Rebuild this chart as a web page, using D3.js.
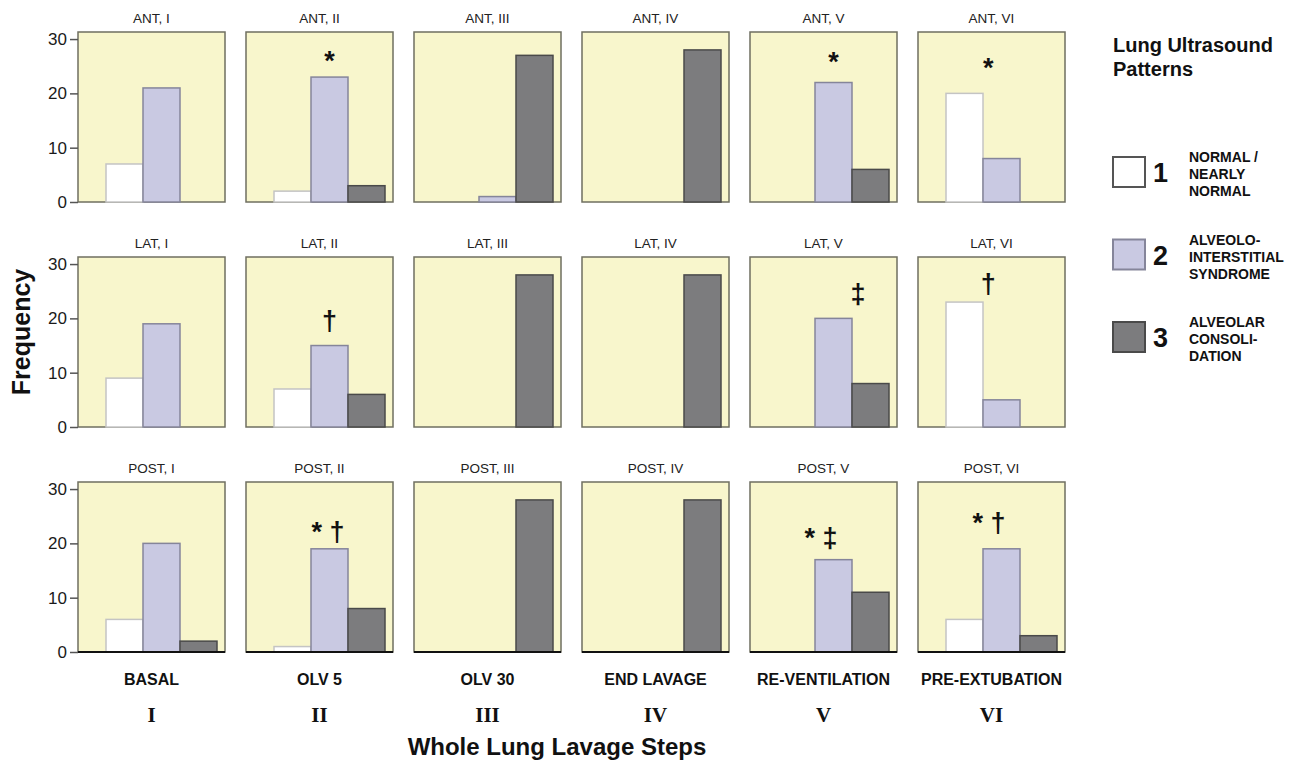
<!DOCTYPE html>
<html>
<head>
<meta charset="utf-8">
<script src="https://cdn.jsdelivr.net/npm/d3@7"></script>
<style>
  body { margin: 0; background: #fff; }
  text { font-family: "Liberation Sans", Arial, sans-serif; }
</style>
</head>
<body>
<div id="chart"></div>
<script>
// --- data ---
var regions = ["ANT", "LAT", "POST"];
var steps = ["I", "II", "III", "IV", "V", "VI"];
var stepNames = ["BASAL", "OLV 5", "OLV 30", "END LAVAGE", "RE-VENTILATION", "PRE-EXTUBATION"];
var patterns = [1, 2, 3];
var patternNames = [
    ["NORMAL /", "NEARLY", "NORMAL"],
    ["ALVEOLO-", "INTERSTITIAL", "SYNDROME"],
    ["ALVEOLAR", "CONSOLI-", "DATION"]
];
var yTicks = [0, 10, 20, 30];

// frequency per pattern [1, 2, 3], one row per step
var antValues = [[7, 21, 0], [2, 23, 3], [0, 1, 27], [0, 0, 28], [0, 22, 6], [20, 8, 0]];
var latValues = [[9, 19, 0], [7, 15, 6], [0, 0, 28], [0, 0, 28], [0, 20, 8], [23, 5, 0]];
var postValues = [[6, 20, 2], [1, 19, 8], [0, 0, 28], [0, 0, 28], [0, 17, 11], [6, 19, 3]];
var allValues = [antValues, latValues, postValues];

// significance marks: region, step, mark, position over the bars (bar units), height (frequency)
var marks = [
    ["ANT", "II", "*", 1.5, 26.1],
    ["ANT", "V", "*", 1.5, 25.8],
    ["ANT", "VI", "*", 1.14, 24.7],
    ["LAT", "II", "\u2020", 1.5, 19.6],
    ["LAT", "V", "\u2021", 2.16, 24.6],
    ["LAT", "VI", "\u2020", 1.14, 26.4],
    ["POST", "II", "* \u2020", 1.46, 22.1],
    ["POST", "V", "* \u2021", 1.16, 21],
    ["POST", "VI", "* \u2020", 1.16, 23.9]
];

var fills = ["#ffffff", "#c9c9e2", "#7c7c7e"];
var strokes = ["#c4c4c4", "#85859a", "#4a4a4a"];

var W = 1301, H = 765;
var panelW = 147, panelH = 170;

var svg = d3.select("#chart").append("svg")
    .attr("width", W)
    .attr("height", H);

var colX = d3.scaleBand().domain(steps).range([78, 1065]).paddingInner(0.125).paddingOuter(0);
var rowY = d3.scaleBand().domain(regions).range([32, 652]).paddingInner(55 / 225).paddingOuter(0);

var y = d3.scaleLinear().domain([0, 31.3]).range([panelH, 0]);
var barX = d3.scaleBand().domain(patterns).range([28, 139]).padding(0);
var markX = d3.scaleLinear().domain([0, 3]).range([28, 139]);

regions.forEach(function(region, r) {
    steps.forEach(function(step, c) {
        var g = svg.append("g")
            .attr("transform", "translate(" + colX(step) + "," + rowY(region) + ")");

        g.append("rect")
            .attr("width", panelW)
            .attr("height", panelH)
            .attr("fill", "#f8f6cc")
            .attr("stroke", "#6f6f60")
            .attr("stroke-width", 1.5);

        g.append("text")
            .attr("x", panelW / 2)
            .attr("y", -9)
            .attr("text-anchor", "middle")
            .attr("font-size", 13.5)
            .attr("fill", "#222")
            .text(region + ", " + step);

        var vals = allValues[r][c];
        g.selectAll(".bar")
            .data(patterns.filter(function(p, i) { return vals[i] > 0; }))
            .enter().append("rect")
            .attr("class", "bar")
            .attr("x", function(p) { return barX(p); })
            .attr("width", barX.bandwidth())
            .attr("y", function(p) { return y(vals[p - 1]); })
            .attr("height", function(p) { return y(0) - y(vals[p - 1]); })
            .attr("fill", function(p) { return fills[p - 1]; })
            .attr("stroke", function(p) { return strokes[p - 1]; })
            .attr("stroke-width", 1.5);

        if (r === regions.length - 1) {
            g.append("line")
                .attr("x1", 0).attr("x2", panelW)
                .attr("y1", panelH).attr("y2", panelH)
                .attr("stroke", "#111")
                .attr("stroke-width", 2);
        }

        if (c === 0) {
            var ax = g.append("g")
                .call(d3.axisLeft(y).tickValues(yTicks).tickSize(8).tickPadding(3));
            ax.select(".domain").remove();
            ax.selectAll(".tick line").attr("stroke", "#555").attr("stroke-width", 1.5);
            ax.selectAll(".tick text")
                .attr("font-size", 17)
                .attr("font-family", "Liberation Sans, Arial, sans-serif")
                .attr("fill", "#1a1a1a");
        }

        marks.filter(function(m) { return m[0] === region && m[1] === step; })
            .forEach(function(m) {
                g.append("text")
                    .attr("x", markX(m[3]))
                    .attr("y", y(m[4]))
                    .attr("dy", "0.35em")
                    .attr("text-anchor", "middle")
                    .attr("font-size", 27)
                    .attr("font-weight", "bold")
                    .attr("fill", "#111")
                    .text(m[2]);
            });
    });
});

// step labels under the grid
steps.forEach(function(step, c) {
    var cx = colX(step) + panelW / 2;
    svg.append("text")
        .attr("x", cx)
        .attr("y", 685)
        .attr("text-anchor", "middle")
        .attr("font-size", 16)
        .attr("font-weight", "bold")
        .attr("fill", "#111")
        .text(stepNames[c]);
    svg.append("text")
        .attr("x", cx)
        .attr("y", 722)
        .attr("text-anchor", "middle")
        .attr("font-size", 21)
        .attr("font-weight", "bold")
        .style("font-family", "'Liberation Serif', 'Times New Roman', serif")
        .attr("fill", "#111")
        .text(step);
});

svg.append("text")
    .attr("x", 557)
    .attr("y", 755)
    .attr("text-anchor", "middle")
    .attr("font-size", 24)
    .attr("font-weight", "bold")
    .attr("fill", "#111")
    .text("Whole Lung Lavage Steps");

svg.append("text")
    .attr("transform", "translate(30,332) rotate(-90)")
    .attr("text-anchor", "middle")
    .attr("font-size", 25)
    .attr("font-weight", "bold")
    .attr("fill", "#111")
    .text("Frequency");

// legend
var legend = svg.append("g").attr("transform", "translate(1113,0)");
legend.append("text")
    .attr("y", 52)
    .attr("font-size", 20)
    .attr("font-weight", "bold")
    .attr("fill", "#111")
    .selectAll("tspan")
    .data(["Lung Ultrasound", "Patterns"])
    .enter().append("tspan")
    .attr("x", 0)
    .attr("dy", function(d, i) { return i ? 24 : 0; })
    .text(function(d) { return d; });

var legendY = d3.scalePoint().domain(patterns).range([172, 337]);
patterns.forEach(function(p, i) {
    var ly = legendY(p);
    legend.append("rect")
        .attr("x", 0)
        .attr("y", ly - 15)
        .attr("width", 32)
        .attr("height", 30)
        .attr("fill", fills[i])
        .attr("stroke", i === 0 ? "#555" : strokes[i])
        .attr("stroke-width", 2);
    legend.append("text")
        .attr("x", 40)
        .attr("y", ly + 10)
        .attr("font-size", 27)
        .attr("font-weight", "bold")
        .attr("fill", "#111")
        .text(p);
    legend.append("text")
        .attr("y", ly - 27)
        .attr("font-size", 14)
        .attr("font-weight", "bold")
        .attr("fill", "#111")
        .selectAll("tspan")
        .data(patternNames[i])
        .enter().append("tspan")
        .attr("x", 76)
        .attr("dy", 17)
        .text(function(d) { return d; });
});
</script>
</body>
</html>
